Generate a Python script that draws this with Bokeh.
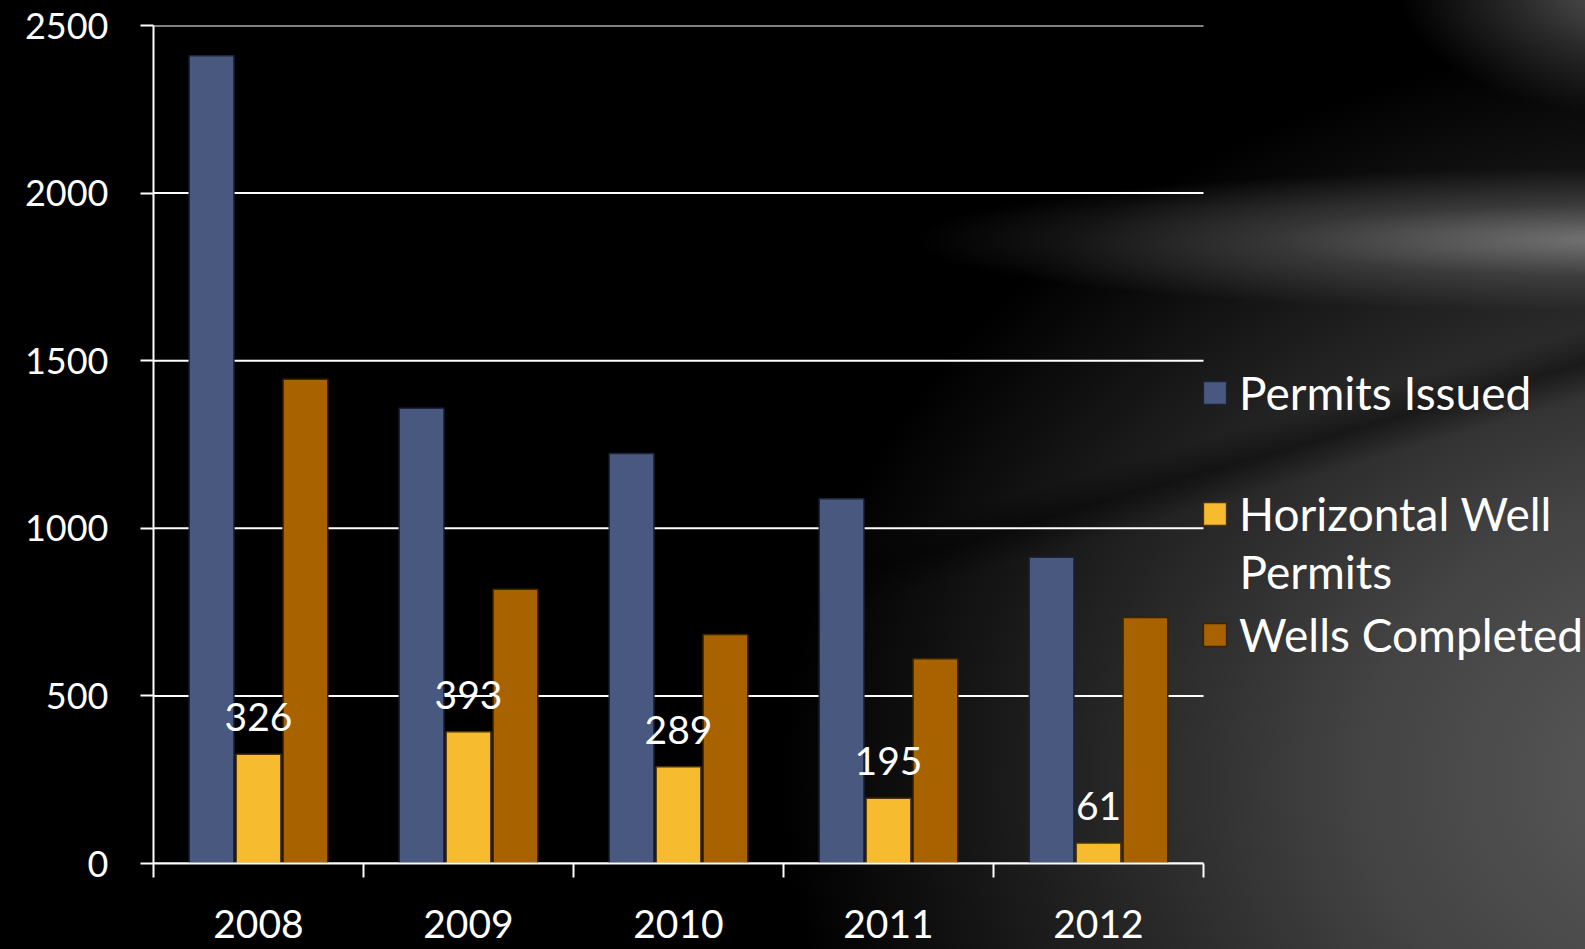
import numpy as np
from bokeh.plotting import figure
from bokeh.models import (ColumnDataSource, FixedTicker, Legend, LegendItem,
                          LabelSet, Label, InlineStyleSheet, Range1d)
from bokeh.core.properties import value
from bokeh.transform import dodge
from bokeh.embed import file_html
from bokeh.resources import INLINE

# ---- data ----
years = ["2008", "2009", "2010", "2011", "2012"]
permits_issued = [2410, 1358, 1223, 1088, 914]
horizontal_permits = [326, 393, 289, 195, 61]
wells_completed = [1445, 818, 683, 611, 734]
y_ticks = [0, 500, 1000, 1500, 2000, 2500]
series_names = ["Permits Issued", "Horizontal Well", "Wells Completed"]
series_name_2nd_line = "Permits"       # second line of "Horizontal Well Permits"

n = len(years)
x_centers = list(np.arange(n) + 0.5)
x_bounds = list(np.arange(n + 1).astype(float))
Y_MAX = y_ticks[-1]

source = ColumnDataSource(dict(
    x=x_centers, year=years,
    permits=permits_issued, horiz=horizontal_permits, wells=wells_completed,
    horiz_label=[str(v) for v in horizontal_permits],
))
grid_src = ColumnDataSource(dict(y=y_ticks, x0=[0] * len(y_ticks), x1=[n] * len(y_ticks)))

FONT = "Lato"
# ---- layout (css pixels) ----
W, H = 1600, 958
LEFT, TOP = 153, 25
FRAME_BOTTOM = 863
BOTTOM = H - FRAME_BOTTOM
PLOT_RIGHT = 1203                      # where the category axis ends
CAT_PX = (PLOT_RIGHT - LEFT) / n
FRAME_H = FRAME_BOTTOM - TOP
x_end = (W - LEFT) / CAT_PX            # frame continues under the legend

p = figure(width=W, height=H, output_backend="svg", toolbar_location=None,
           x_range=Range1d(0, x_end), y_range=Range1d(0, Y_MAX),
           min_border_left=LEFT, min_border_right=0,
           min_border_top=TOP, min_border_bottom=BOTTOM)

p.background_fill_color = None
p.border_fill_color = None
p.outline_line_color = None

css = """
:host {
  background:
    linear-gradient(164deg, rgba(0,0,0,0) 55.3%, rgba(0,0,0,0.45) 57.7%, rgba(0,0,0,0) 60.2%),
    radial-gradient(ellipse 235px 125px at 1635px -10px, rgba(95,95,95,0.95) 0%, rgba(70,70,70,0.6) 50%, rgba(0,0,0,0) 100%),
    radial-gradient(ellipse 710px 72px at 1625px 240px, rgba(122,122,122,0.95) 0%, rgba(85,85,85,0.55) 50%, rgba(0,0,0,0) 100%),
    radial-gradient(ellipse 960px 750px at 1740px 780px, #5e5e5e 0%, #434343 40%, #1c1c1c 75%, rgba(0,0,0,0) 100%),
    #000000;
}
"""
p.stylesheets = [InlineStyleSheet(css=css)]

# grid lines, drawn only across the category area
p.xgrid.grid_line_color = None
p.ygrid.grid_line_color = None
p.segment(x0="x0", x1="x1", y0="y", y1="y", source=grid_src,
          line_color="white", line_width=2)

# y axis
ya = p.yaxis[0]
ya.ticker = FixedTicker(ticks=y_ticks)
ya.axis_line_color = "white"
ya.axis_line_width = 2
ya.major_tick_line_color = "white"
ya.major_tick_line_width = 2
ya.major_tick_out = 13
ya.major_tick_in = 0
ya.minor_tick_line_color = None
ya.major_label_text_color = "white"
ya.major_label_text_font = FONT
ya.major_label_text_font_size = "36px"
ya.major_label_standoff = 32

# x axis
xa = p.xaxis[0]
xa.bounds = (0, n)
xa.ticker = FixedTicker(ticks=x_centers, minor_ticks=x_bounds)
xa.major_label_overrides = {float(c): y for c, y in zip(x_centers, years)}
xa.axis_line_color = "white"
xa.axis_line_width = 2
xa.major_tick_line_color = None
xa.major_tick_out = 0
xa.major_tick_in = 0
xa.minor_tick_line_color = "white"
xa.minor_tick_line_width = 2
xa.minor_tick_out = 14
xa.minor_tick_in = 0
xa.major_label_text_color = "white"
xa.major_label_text_font = FONT
xa.major_label_text_font_size = "39px"
xa.major_label_standoff = 32

# bars
OFF = 0.2235
BW = 0.213
r1 = p.vbar(x=dodge("x", -OFF, range=p.x_range), top="permits", width=BW, source=source,
            fill_color="#48587e", line_color="#1c2336", line_width=1.5)
r2 = p.vbar(x=dodge("x", 0.0, range=p.x_range), top="horiz", width=BW, source=source,
            fill_color="#f7bb2f", line_color="#4a3208", line_width=1.5)
r3 = p.vbar(x=dodge("x", OFF, range=p.x_range), top="wells", width=BW, source=source,
            fill_color="#a86300", line_color="#3a2300", line_width=1.5)

labels = LabelSet(x="x", y="horiz", text="horiz_label", source=source,
                  y_offset=37, text_align="center", text_baseline="middle",
                  text_color="white", text_font=value(FONT), text_font_size="39px")
p.add_layout(labels)

# ---- legend ----
LG_FONT = 46
GLYPH = 29
STANDOFF = 10
ROW_H = 60
ROW_PITCH = 121
LG_X = PLOT_RIGHT - 3                 # css px of legend's left edge
LG_TOP = 362                          # css px of legend's top edge

legend = Legend(items=[LegendItem(label=series_names[0], renderers=[r1]),
                       LegendItem(label=series_names[1], renderers=[r2]),
                       LegendItem(label=series_names[2], renderers=[r3])])
legend.background_fill_color = None
legend.background_fill_alpha = 0
legend.border_line_color = None
legend.label_text_color = "white"
legend.label_text_font = FONT
legend.label_text_font_size = f"{LG_FONT}px"
legend.glyph_width = GLYPH
legend.glyph_height = GLYPH
legend.label_height = ROW_H
legend.label_standoff = STANDOFF
legend.spacing = ROW_PITCH - ROW_H
legend.padding = 0
legend.margin = 0
legend.click_policy = "none"
lg_height = 3 * ROW_H + 2 * (ROW_PITCH - ROW_H)
legend.location = (LG_X - LEFT, FRAME_BOTTOM - (LG_TOP + lg_height))
p.add_layout(legend)

# second line of the "Horizontal Well Permits" entry
line2_px_x = LG_X + GLYPH + STANDOFF
line2_px_y = LG_TOP + ROW_PITCH + ROW_H / 2 + 58
p.add_layout(Label(x=(line2_px_x - LEFT) / CAT_PX,
                   y=(FRAME_BOTTOM - line2_px_y) / FRAME_H * Y_MAX,
                   text=series_name_2nd_line, text_align="left", text_baseline="middle",
                   text_color="white", text_font=FONT, text_font_size=f"{LG_FONT}px"))

open("out.html", "w").write(file_html(p, INLINE))
